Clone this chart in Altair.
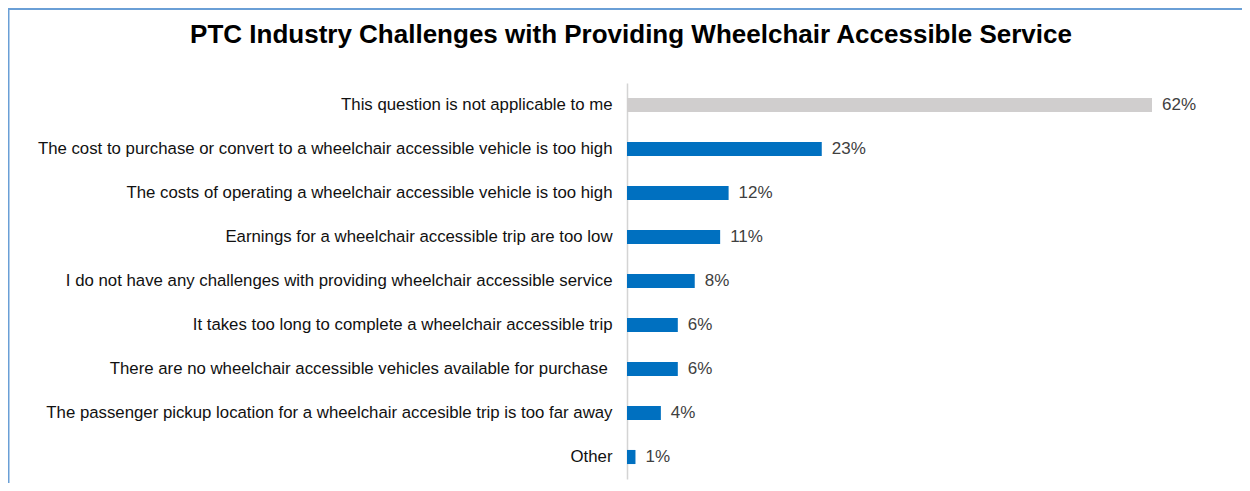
import altair as alt
import pandas as pd

title_text = "PTC Industry Challenges with Providing Wheelchair Accessible Service"

categories = [
    "This question is not applicable to me",
    "The cost to purchase or convert to a wheelchair accessible vehicle is too high",
    "The costs of operating a wheelchair accessible vehicle is too high",
    "Earnings for a wheelchair accessible trip are too low",
    "I do not have any challenges with providing wheelchair accessible service",
    "It takes too long to complete a wheelchair accessible trip",
    "There are no wheelchair accessible vehicles available for purchase\u00a0\u200b",
    "The passenger pickup location for a wheelchair accesible trip is too far away",
    "Other",
]
values = [62, 23, 12, 11, 8, 6, 6, 4, 1]
groups = ["na", "main", "main", "main", "main", "main", "main", "main", "main"]
value_labels = ["62%", "23%", "12%", "11%", "8%", "6%", "6%", "4%", "1%"]

FONT = "Liberation Sans"

df = pd.DataFrame({"category": categories, "value": values, "group": groups, "label": value_labels})

y = alt.Y(
    "category:N",
    sort=categories,
    title=None,
    scale=alt.Scale(paddingInner=0.68, paddingOuter=0.34),
    axis=alt.Axis(
        ticks=False,
        labelPadding=15,
        labelFontSize=16.8,
        labelFont=FONT,
        labelColor="#111111",
        labelLimit=800,
        domainColor="#D4D4D4",
        domainWidth=1.5,
        grid=False,
    ),
)
x = alt.X("value:Q", scale=alt.Scale(domain=[0, 62], nice=False, zero=True), axis=None)

base = alt.Chart(df)
bars = base.mark_bar().encode(
    x=x,
    y=y,
    color=alt.Color(
        "group:N",
        scale=alt.Scale(domain=["na", "main"], range=["#D0CECE", "#0070C0"]),
        legend=None,
    ),
)
texts = base.mark_text(align="left", baseline="middle", dx=10, fontSize=17, font=FONT, color="#404040").encode(
    x=x, y=y, text="label:N"
)

title = alt.Chart(pd.DataFrame({"t": [title_text]})).mark_text(
    fontSize=26, fontWeight="bold", font=FONT, align="center", baseline="middle", color="#000000"
).encode(x=alt.value(4), y=alt.value(-48), text="t:N")

border_df = pd.DataFrame({"a": [0]})
border_top = alt.Chart(border_df).mark_rule(color="#6A9FD6", strokeWidth=2).encode(
    x=alt.value(-620), x2=alt.value(620), y=alt.value(-74)
)
border_left = alt.Chart(border_df).mark_rule(color="#6A9FD6", strokeWidth=2).encode(
    x=alt.value(-618.5), y=alt.value(-75), y2=alt.value(400)
)

chart = alt.layer(border_top, border_left, title, bars, texts).properties(
    width=525,
    height=396,
    autosize=alt.AutoSizeParams(type="none"),
    padding={"left": 619, "top": 75, "right": 90, "bottom": 4},
).configure_view(stroke=None)

chart.save("out.html", embed_options={"renderer": "svg", "actions": False})
